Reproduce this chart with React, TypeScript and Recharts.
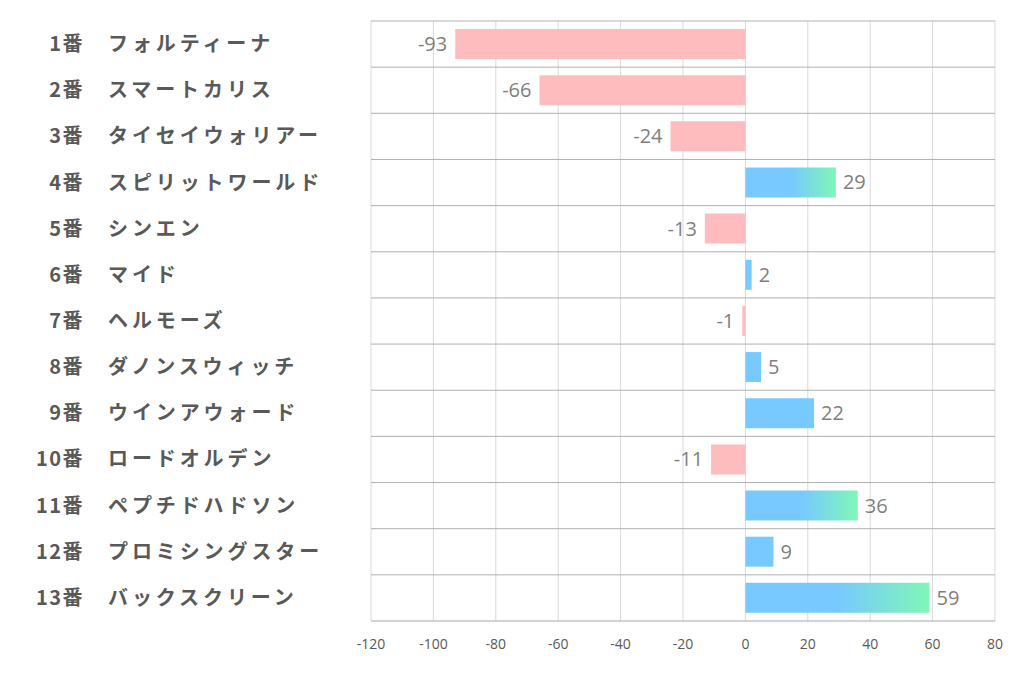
import { BarChart, Bar, XAxis, YAxis, CartesianGrid, Cell, LabelList } from "recharts";

const gateNumbers = ["1番", "2番", "3番", "4番", "5番", "6番", "7番", "8番", "9番", "10番", "11番", "12番", "13番"];
const horseNames = [
  "フォルティーナ",
  "スマートカリス",
  "タイセイウォリアー",
  "スピリットワールド",
  "シンエン",
  "マイド",
  "ヘルモーズ",
  "ダノンスウィッチ",
  "ウインアウォード",
  "ロードオルデン",
  "ペプチドハドソン",
  "プロミシングスター",
  "バックスクリーン",
];
const scores = [-93, -66, -24, 29, -13, 2, -1, 5, 22, -11, 36, 9, 59];
const xTicks = [-120, -100, -80, -60, -40, -20, 0, 20, 40, 60, 80];

// bars above this get the blue->green fade
const GRADIENT_FROM = 25;

const chartData = horseNames.map((name, i) => ({
  key: `${gateNumbers[i]} ${name}`,
  num: gateNumbers[i],
  name,
  value: scores[i],
}));

const JP_FONT = "'Noto Sans CJK JP', 'Noto Sans', sans-serif";
const NUM_FONT = "'Open Sans', 'Noto Sans', sans-serif";

function HorseTick(props: any) {
  const { y, payload } = props;
  const row = chartData.find((d) => d.key === payload.value);
  if (!row) return null;
  return (
    <g fontFamily={JP_FONT} fontWeight="bold" fontSize={20} fill="#595959">
      <text x={84} y={y} dy={7} textAnchor="end" letterSpacing={1.5}>
        {row.num}
      </text>
      <text x={108} y={y} dy={7} textAnchor="start" letterSpacing={3.9}>
        {row.name}
      </text>
    </g>
  );
}

function ValueLabel(props: any) {
  const { x, y, width, height, value } = props;
  const end = x + width;
  const neg = value < 0;
  return (
    <text
      x={neg ? Math.min(x, end) - 8 : Math.max(x, end) + 7}
      y={y + height / 2}
      dy={7}
      textAnchor={neg ? "end" : "start"}
      fontFamily={NUM_FONT}
      fontSize={20}
      fill="#7f7f7f"
    >
      {value}
    </text>
  );
}

export default function App() {
  return (
    <div style={{ position: "absolute", left: 0, top: 0, width: 1022, height: 678, background: "#fff" }}>
      <BarChart
        width={1022}
        height={678}
        data={chartData}
        layout="vertical"
        margin={{ top: 21, right: 27, bottom: 0, left: 0 }}
        barSize={30}
      >
        <defs>
          <linearGradient id="blueGreen" x1="0" y1="0" x2="1" y2="0">
            <stop offset="0" stopColor="#77c9ff" />
            <stop offset="0.5" stopColor="#77c9ff" />
            <stop offset="1" stopColor="#7ff7b6" />
          </linearGradient>
        </defs>
        <CartesianGrid horizontal={false} stroke="#d9d9d9" />
        <CartesianGrid
          vertical={false}
          stroke="#b0b0b0"
          horizontalCoordinatesGenerator={({ offset }: any) =>
            chartData.map((_, i) => offset.top + (i * offset.height) / chartData.length)
          }
        />
        <XAxis
          type="number"
          domain={[-120, 80]}
          ticks={xTicks}
          interval={0}
          height={57}
          tickLine={false}
          axisLine={{ stroke: "#a6a6a6" }}
          tick={{ fill: "#595959", fontSize: 14, fontFamily: NUM_FONT }}
          tickMargin={12}
        />
        <YAxis
          type="category"
          dataKey="key"
          width={371}
          axisLine={false}
          tickLine={false}
          tick={<HorseTick />}
          interval={0}
        />
        <Bar dataKey="value" isAnimationActive={false}>
          {chartData.map((d) => (
            <Cell
              key={d.key}
              fill={d.value < 0 ? "#ffbcbe" : d.value > GRADIENT_FROM ? "url(#blueGreen)" : "#77c9ff"}
            />
          ))}
          <LabelList dataKey="value" content={<ValueLabel />} />
        </Bar>
      </BarChart>
    </div>
  );
}
